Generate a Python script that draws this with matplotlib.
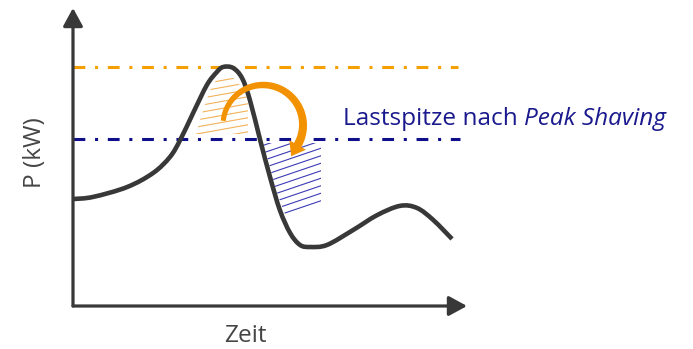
import numpy as np
import matplotlib
matplotlib.use("Agg")
import matplotlib.pyplot as plt
from matplotlib.path import Path
from matplotlib.patches import PathPatch, Polygon
from matplotlib.transforms import Affine2D

# ---------------- data ----------------
time_pts = [0.0, 5.1, 13.7, 20.3, 24.6, 27.2, 30.5, 34.0, 36.5, 38.1, 40.6, 42.9,
            44.9, 47.5, 50.0, 52.5, 55.1, 57.6, 60.2, 64.5, 71.1, 77.2, 83.0,
            87.3, 91.4, 96.2]
power_pts = [35.9, 36.6, 39.9, 44.6, 50.0, 55.7, 64.8, 74.2, 78.5, 80.2, 79.9, 76.5,
             69.1, 55.7, 43.3, 32.2, 24.5, 20.5, 19.8, 20.5, 25.5, 30.5, 33.6,
             32.9, 28.9, 22.5]
peak_level = 80.2        # original peak load
shaved_level = 56.0      # peak after peak shaving
label_main = "Lastspitze nach "
label_italic = "Peak Shaving"
x_label = "Zeit"
y_label = "P (kW)"

# ---------------- style ----------------
W, H = 693, 349
GRAY = "#383838"
TXT_GRAY = "#454545"
ORANGE = "#F5A000"
ORANGE_ARROW = "#F39200"
ORANGE_HATCH = "#F2B25A"
BLUE = "#0F0F8C"
BLUE_TXT = "#1A1A8E"
BLUE_HATCH = "#3C3CB4"
FONT = "Open Sans"

plt.rcParams["lines.scale_dashes"] = False

fig = plt.figure(figsize=(W / 100, H / 100), dpi=100)
X0, X1, Y0, Y1 = 73, 467, 306, 8
ax = fig.add_axes([X0 / W, 1 - Y0 / H, (X1 - X0) / W, (Y0 - Y1) / H])
ax.set_xlim(0, 100)
ax.set_ylim(0, 100)
ax.set_axis_off()

# pixel-coordinate transform for decorations (origin top-left)
pxT = Affine2D().scale(1 / W, -1 / H).translate(0, 1) + fig.transFigure

# ---------------- axes with arrows ----------------
arrow_kw = dict(arrowstyle="-|>,head_length=0.55,head_width=0.3", lw=2.3,
                color=GRAY, shrinkA=0, shrinkB=0, mutation_scale=20)
ax.annotate("", xy=(0, 1), xytext=(0, 0), xycoords="axes fraction",
            arrowprops=arrow_kw, annotation_clip=False)
ax.annotate("", xy=(1, 0), xytext=(0, 0), xycoords="axes fraction",
            arrowprops=arrow_kw, annotation_clip=False)

# ---------------- level lines ----------------
dash = (8.5, 7.0, 2.2, 7.0)
ax.plot([0, 97.7], [peak_level, peak_level], color=ORANGE, lw=2.2,
        dashes=dash, dash_capstyle="butt", zorder=2)
ax.plot([0, 98.2], [shaved_level, shaved_level], color=BLUE, lw=2.2,
        dashes=dash, dash_capstyle="butt", zorder=2)

# ---------------- hatches ----------------
def hatch(poly_px, slope, spacing, color, ybounds):
    clip = Polygon(poly_px, closed=True, transform=pxT, facecolor="none",
                   edgecolor="none")
    xs = np.array([min(p[0] for p in poly_px) - 5, max(p[0] for p in poly_px) + 5])
    for b in np.arange(ybounds[0], ybounds[1], spacing):
        ys = b - slope * (xs - xs[0])
        ln, = ax.plot(xs, ys, color=color, lw=0.8, transform=pxT, zorder=1)
        ln.set_clip_path(clip)

orange_poly = [(196, 134), (203, 110), (211, 88), (219, 76), (228, 74),
               (236, 80), (243, 90), (248, 100), (248, 134)]
hatch(orange_poly, 0.18, 7.0, ORANGE_HATCH, (72, 150))
blue_poly = [(262, 143), (321, 143), (321, 202), (286, 217), (276, 190), (268, 160)]
hatch(blue_poly, 0.34, 7.5, BLUE_HATCH, (140, 240))

# ---------------- load curve (smooth Catmull-Rom through read points) ----------------
P = np.column_stack([time_pts, power_pts])
ext = np.vstack([P[0], P, P[-1]])
verts = [tuple(P[0])]
codes = [Path.MOVETO]
for i in range(1, len(ext) - 2):
    p0, p1, p2, p3 = ext[i - 1], ext[i], ext[i + 1], ext[i + 2]
    c1 = p1 + (p2 - p0) / 6.0
    c2 = p2 - (p3 - p1) / 6.0
    verts += [tuple(c1), tuple(c2), tuple(p2)]
    codes += [Path.CURVE4] * 3
ax.add_patch(PathPatch(Path(verts, codes), facecolor="none", edgecolor=GRAY,
                       lw=3.3, capstyle="butt", joinstyle="round", zorder=4))

# ---------------- curved orange arrow ----------------
cx, cy, r = 263, 125, 40
th = np.radians(np.linspace(174, -30, 90))
wd = np.linspace(5.0, 8.5, 90)
xs = cx + r * np.cos(th)
ys = cy - r * np.sin(th)
tx, ty = np.sin(th), np.cos(th)
nx, ny = -ty, tx
left = np.column_stack([xs + nx * wd / 2, ys + ny * wd / 2])
right = np.column_stack([xs - nx * wd / 2, ys - ny * wd / 2])
hl, hw = 13, 19
bx, by = xs[-1], ys[-1]
head = np.array([[bx + nx[-1] * hw / 2, by + ny[-1] * hw / 2],
                 [bx + tx[-1] * hl, by + ty[-1] * hl],
                 [bx - nx[-1] * hw / 2, by - ny[-1] * hw / 2]])
arrow_poly = np.vstack([left, head, right[::-1]])
ax.add_patch(Polygon(arrow_poly, closed=True, transform=pxT, facecolor=ORANGE_ARROW,
                     edgecolor="none", zorder=5))

# ---------------- texts ----------------
t1 = ax.text(343, 125, label_main, transform=pxT, fontsize=17.6, family=FONT,
             color=BLUE_TXT, va="baseline", ha="left")
ax.annotate(label_italic, xy=(1, 0), xycoords=t1, fontsize=17.6, family=FONT,
            style="italic", color=BLUE_TXT, va="bottom", ha="left")

ax.text(245, 342, x_label, transform=pxT, fontsize=17.6, family=FONT,
        color=TXT_GRAY, va="baseline", ha="center")
ax.text(35, 153, y_label, transform=pxT, fontsize=17.6, family=FONT,
        color=TXT_GRAY, va="center", ha="center", rotation=90)

fig.savefig("out.png", dpi=100, facecolor="white")
